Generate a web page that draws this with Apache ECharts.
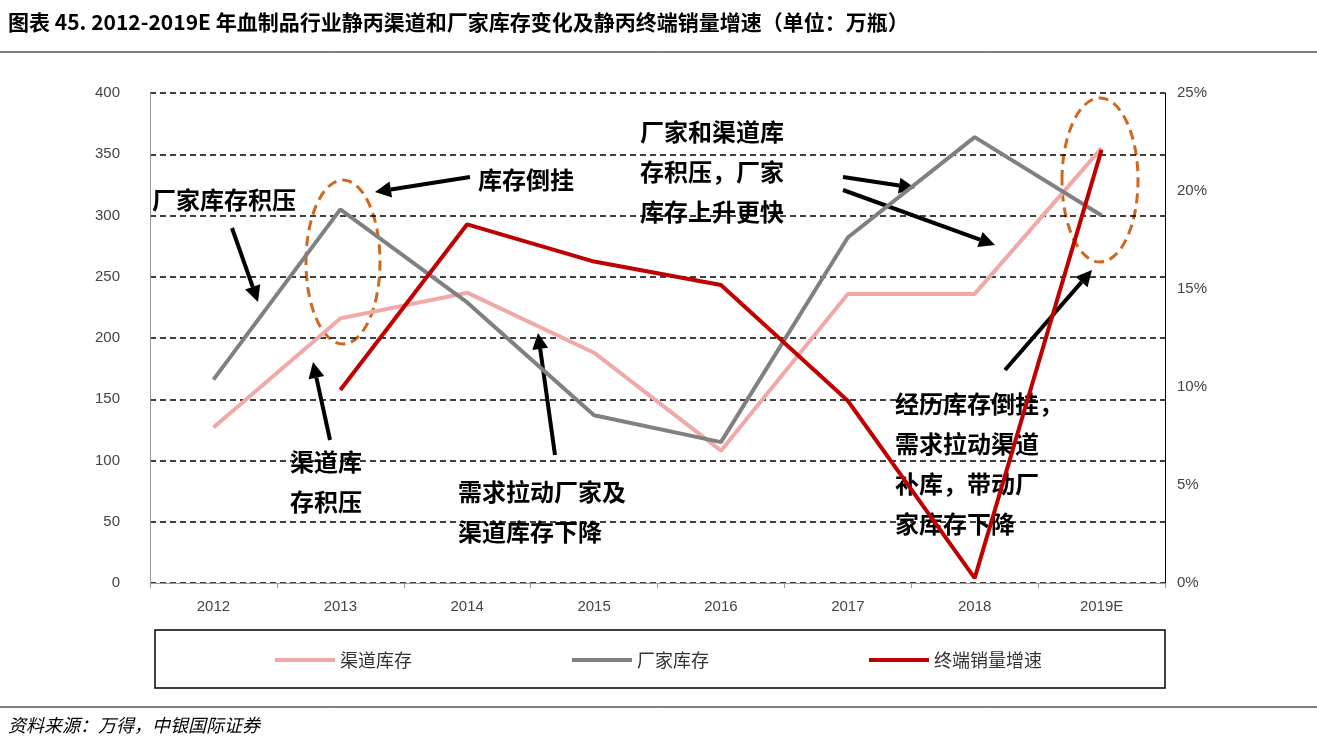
<!DOCTYPE html>
<html><head><meta charset="utf-8">
<script src="https://cdn.jsdelivr.net/npm/echarts@6/dist/echarts.min.js"></script>
<style>html,body{margin:0;padding:0;background:#fff}#c{width:1317px;height:754px}</style>
</head><body><div id="c"></div>
<script>
var categories = ['2012','2013','2014','2015','2016','2017','2018','2019E'];
var channelInv = [127,216,237,188,108,236,236,355];
var makerInv = [166,305,229,137,115,282,364,300];
var salesGrowth = [null,9.85,18.3,16.4,15.2,9.3,0.25,22.1];

var chart = echarts.init(document.getElementById('c'));
var F = '"Noto Sans CJK SC", sans-serif';
function arrow(x1,y1,x2,y2){
  var a=Math.atan2(y2-y1,x2-x1), L=16, W=8;
  var bx=x2-L*Math.cos(a), by=y2-L*Math.sin(a);
  var px=-Math.sin(a)*W, py=Math.cos(a)*W;
  return [
    {type:'line',shape:{x1:x1,y1:y1,x2:bx,y2:by},style:{stroke:'#000',lineWidth:4}},
    {type:'polygon',shape:{points:[[x2,y2],[bx+px,by+py],[bx-px,by-py]]},style:{fill:'#000'}}
  ];
}
function txt(x,y,s){return {type:'text',left:x,top:y,style:{text:s,font:'bold 24px '+F,fill:'#000',lineHeight:40}};}
var g = [
  {type:'text',left:8,top:12,style:{text:'图表 45. 2012-2019E 年血制品行业静丙渠道和厂家库存变化及静丙终端销量增速（单位：万瓶）',font:'bold 21px '+F,fill:'#000'}},
  {type:'line',shape:{x1:0,y1:52,x2:1317,y2:52},style:{stroke:'#000',lineWidth:1}},
  {type:'line',shape:{x1:0,y1:707,x2:1317,y2:707},style:{stroke:'#000',lineWidth:1}},
  {type:'text',left:8,top:716,style:{text:'资料来源：万得，中银国际证券',font:'italic 18px '+F,fill:'#000'}},
  {type:'rect',shape:{x:155,y:630,width:1010,height:58},style:{fill:'none',stroke:'#000',lineWidth:1.5}},
  {type:'ellipse',shape:{cx:343,cy:262,rx:37,ry:82},style:{fill:'none',stroke:'#D0671F',lineWidth:3,lineDash:[10,6]}},
  {type:'ellipse',shape:{cx:1100,cy:180,rx:38,ry:82},style:{fill:'none',stroke:'#D0671F',lineWidth:3,lineDash:[10,6]}},
  txt(152,180,'厂家库存积压'),
  txt(478,160,'库存倒挂'),
  txt(290,442,'渠道库\n存积压'),
  txt(458,472,'需求拉动厂家及\n渠道库存下降'),
  txt(640,112,'厂家和渠道库\n存积压，厂家\n库存上升更快'),
  txt(895,384,'经历库存倒挂，\n需求拉动渠道\n补库，带动厂\n家库存下降')
];
g = g.concat(arrow(232,228,258,302), arrow(470,177,375,192), arrow(330,440,313,362),
  arrow(555,455,538,333), arrow(843,177,915,188), arrow(843,190,995,245), arrow(1005,370,1092,270));

chart.setOption({
  animation:false,
  grid:{left:150,right:152,top:93,bottom:171},
  legend:{bottom:80,left:'center',itemGap:160,itemWidth:60,itemHeight:4,textStyle:{fontSize:18,fontFamily:F,color:'#333'},
    data:[{name:'渠道库存',icon:'rect'},{name:'厂家库存',icon:'rect'},{name:'终端销量增速',icon:'rect'}]},
  xAxis:{type:'category',data:categories,boundaryGap:true,
    axisLine:{lineStyle:{color:'#999'}},axisTick:{show:true,lineStyle:{color:'#999'}},
    axisLabel:{fontSize:15,color:'#444',margin:16,fontFamily:'Arial'}},
  yAxis:[
    {type:'value',min:0,max:400,interval:50,axisLine:{show:true,lineStyle:{color:'#999'}},
     axisLabel:{fontSize:15,color:'#444',margin:30},
     splitLine:{lineStyle:{color:'#000',type:[6,4],width:1.5}}},
    {type:'value',min:0,max:25,interval:5,axisLine:{show:true,lineStyle:{color:'#000'}},
     axisLabel:{fontSize:15,color:'#444',formatter:'{value}%',margin:12},splitLine:{show:false}}
  ],
  series:[
    {name:'渠道库存',type:'line',data:channelInv,symbol:'none',lineStyle:{color:'#F0A8A8',width:4},itemStyle:{color:'#F0A8A8'}},
    {name:'厂家库存',type:'line',data:makerInv,symbol:'none',lineStyle:{color:'#808080',width:4},itemStyle:{color:'#808080'}},
    {name:'终端销量增速',type:'line',yAxisIndex:1,data:salesGrowth,symbol:'none',lineStyle:{color:'#C00000',width:4},itemStyle:{color:'#C00000'}}
  ],
  graphic:g
});
</script></body></html>
